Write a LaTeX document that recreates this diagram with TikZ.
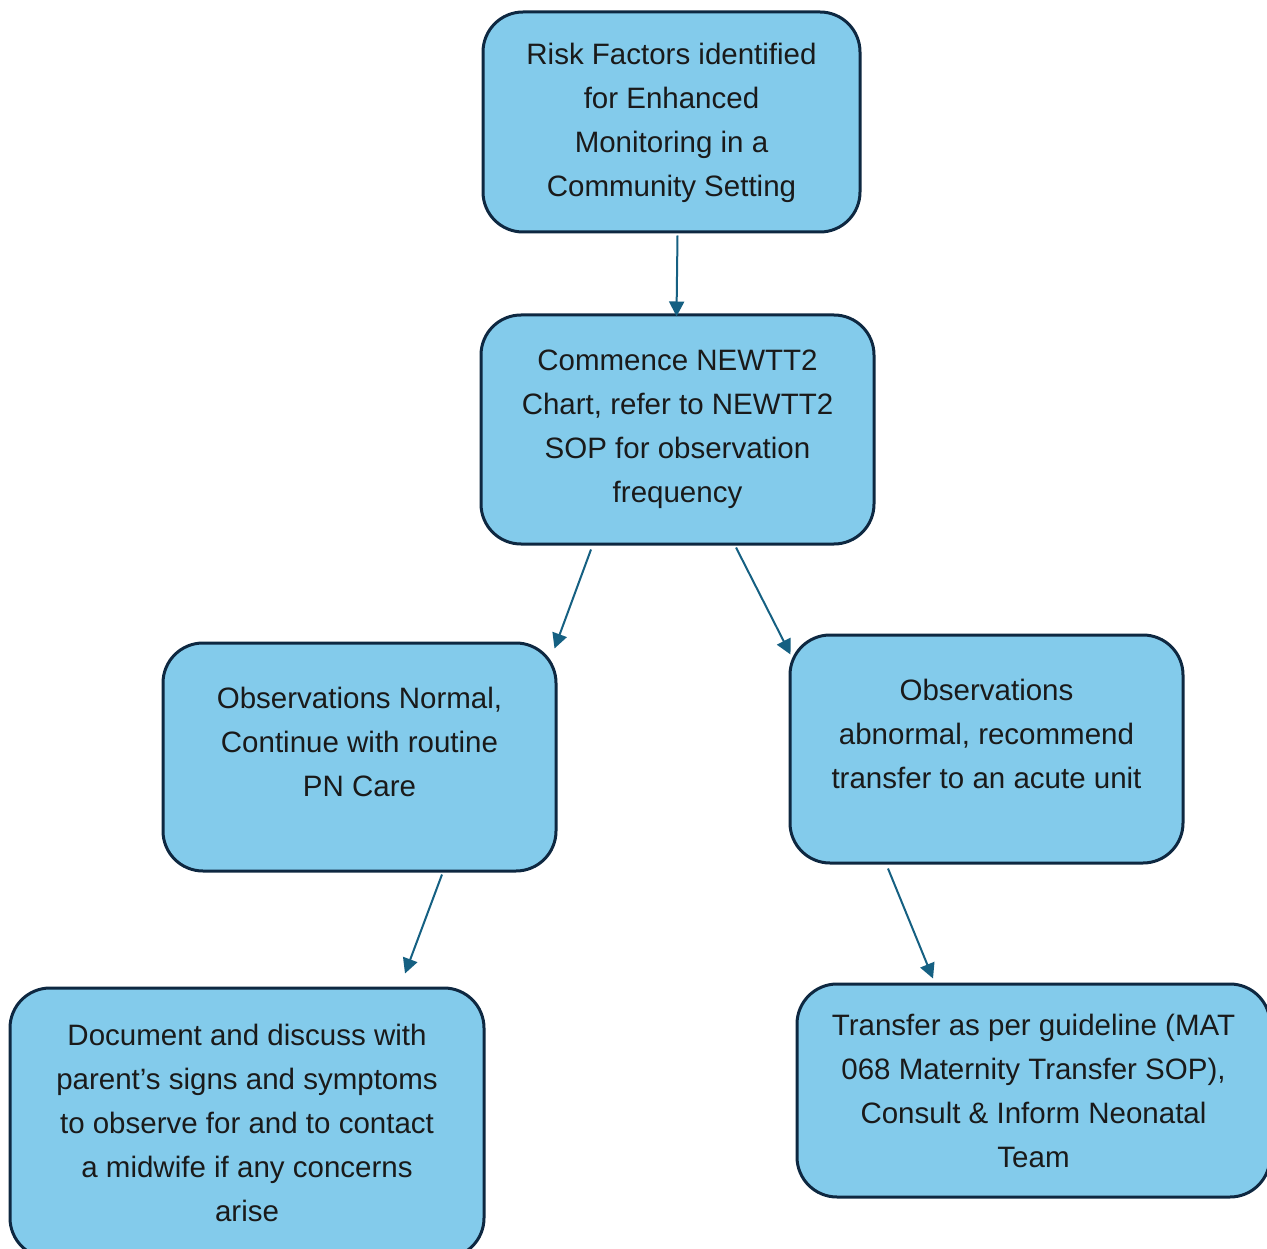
\documentclass[tikz,border=0pt]{standalone}
\usepackage{fontspec}
\setmainfont{Liberation Sans}
\usetikzlibrary{arrows.meta,calc}
\definecolor{boxfill}{HTML}{83CBEB}
\definecolor{boxline}{HTML}{0E2841}
\definecolor{arrowcol}{HTML}{156082}
\definecolor{txt}{HTML}{1A1A1A}
\begin{document}
\begin{tikzpicture}[x=1pt,y=-1pt,
  flowbox/.style={draw=boxline, line width=3pt, fill=boxfill, rounded corners=40pt,
    align=center, text=txt, inner sep=0pt,
    font=\fontsize{29.5}{44}\selectfont},
  flowarrow/.style={draw=arrowcol, line width=2pt,
    -{Triangle[length=15pt,width=15pt]}}]
\useasboundingbox (0,0) rectangle (1267,1249);
\fill[white] (0,0) rectangle (1267,1249);

\node[flowbox, minimum width=377pt, minimum height=220pt] (b1) at (671.5,122)
  {Risk Factors identified\\for Enhanced\\Monitoring in a\\Community Setting\\[-40pt]\mbox{}};
\node[flowbox, minimum width=393pt, minimum height=229pt] (b2) at (677.5,429.5)
  {Commence NEWTT2\\Chart, refer to NEWTT2\\SOP for observation\\frequency\\[-38pt]\mbox{}};
\node[flowbox, minimum width=393pt, minimum height=228pt] (b3) at (359.5,757)
  {Observations Normal,\\Continue with routine\\PN Care\\[-14pt]\mbox{}};
\node[flowbox, minimum width=393pt, minimum height=228pt] (b4) at (986.5,749)
  {Observations\\abnormal, recommend\\transfer to an acute unit\\[-14pt]\mbox{}};
\node[flowbox, minimum width=474pt, minimum height=270pt] (b5) at (247,1123)
  {Document and discuss with\\parent’s signs and symptoms\\to observe for and to contact\\a midwife if any concerns\\arise};
\node[flowbox, minimum width=473pt, minimum height=213pt] (b6) at (1033.5,1090.5)
  {Transfer as per guideline (MAT\\068 Maternity Transfer SOP),\\Consult \& Inform Neonatal\\Team};

\draw[flowarrow] ($(b1.south)+(6,2)$) -- ($(b2.north)+(-1,3)$);
\draw[flowarrow] ($(b2.south)+(-86.5,4)$) -- ($(b3.north east)+(-3,7)$);
\draw[flowarrow] ($(b2.south)+(58.5,2)$) -- ($(b4.north west)+(2,21)$);
\draw[flowarrow] ($(b3.south)+(82.5,2)$) -- ($(b5.north)+(158,-13)$);
\draw[flowarrow] ($(b4.south)+(-98.5,4)$) -- ($(b6.north)+(-100.5,-4)$);
\end{tikzpicture}
\end{document}
